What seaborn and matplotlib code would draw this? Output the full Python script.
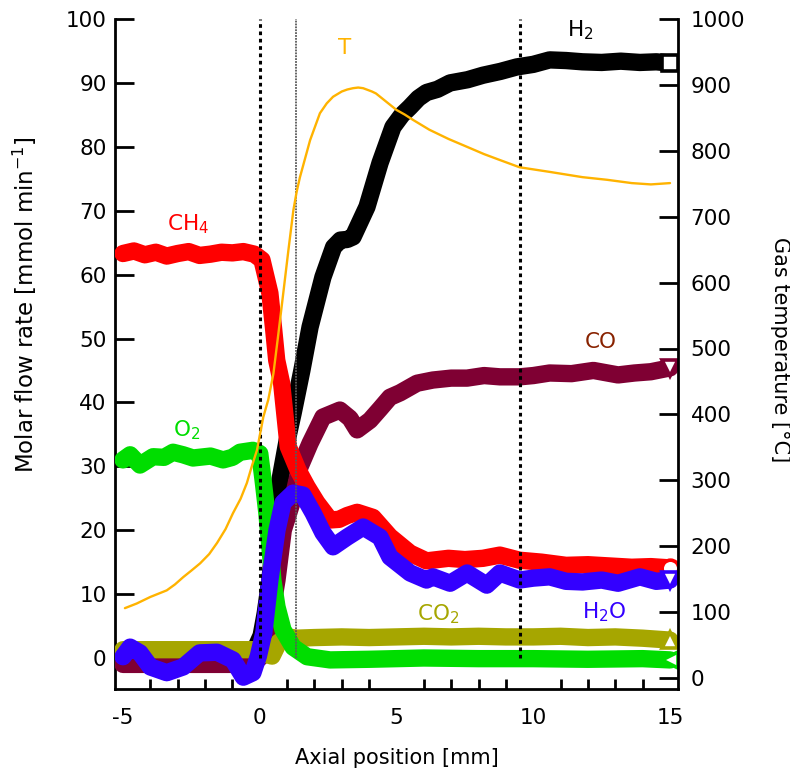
import matplotlib
matplotlib.use("Agg")
import numpy as np
import pandas as pd
import seaborn as sns
import matplotlib.pyplot as plt

# ---------------- data ----------------
ch4_x = [-5.0, -4.6, -4.2, -3.8, -3.4, -3.0, -2.6, -2.2, -1.8, -1.4, -1.0, -0.6, -0.2, 0.08, 0.37, 0.5, 0.62, 0.8,
         1.04, 1.4, 1.73, 2.09, 2.57, 2.9, 3.2, 3.56, 4.14, 4.76, 5.5, 6.1, 6.9, 7.5, 8.16, 8.78, 9.5, 10.3, 11.2,
         12.0, 12.8, 13.6, 14.3, 15.0]
ch4_y = [63.3, 63.7, 63.1, 63.5, 62.9, 63.3, 63.6, 63.0, 63.2, 63.5, 63.4, 63.6, 63.2, 62.3, 57.1, 51.8, 46.6, 43.0,
         33.1, 29.4, 26.8, 24.3, 21.6, 21.7, 22.3, 22.8, 22.0, 19.0, 16.4, 15.2, 15.6, 15.4, 15.6, 16.1, 15.3, 15.0,
         14.5, 14.6, 14.4, 14.2, 14.3, 14.1]

h2_x = [-5.0, -3.0, -1.0, -0.4, -0.15, 0.05, 0.2, 0.37, 0.55, 0.74, 1.0, 1.22, 1.54, 1.84, 2.31, 2.7, 2.95, 3.2,
        3.41, 3.92, 4.4, 4.87, 5.2, 5.49, 5.8, 6.1, 6.5, 6.96, 7.6, 8.16, 8.8, 9.4, 10.0, 10.6, 11.2, 11.8, 12.5,
        13.2, 13.9, 14.5, 15.0]
h2_y = [0.3, 0.3, 0.3, 0.6, 1.6, 3.5, 7.0, 12.2, 20.0, 27.9, 34.0, 38.3, 45.0, 51.8, 59.6, 64.3, 65.4, 65.5,
        65.9, 70.6, 77.5, 83.1, 85.0, 86.2, 87.6, 88.5, 89.0, 90.0, 90.5, 91.2, 91.8, 92.5, 92.9, 93.6, 93.5, 93.3,
        93.2, 93.4, 93.2, 93.3, 93.1]

t_x = [-4.93, -4.5, -4.0, -3.7, -3.4, -3.1, -2.8, -2.5, -2.18, -1.85, -1.56, -1.25, -0.98, -0.7, -0.47, -0.3,
       -0.1, 0.13, 0.31, 0.5, 0.68, 0.86, 1.05, 1.23, 1.35, 1.47, 1.84, 2.2, 2.45, 2.68, 3.0, 3.2, 3.41, 3.6, 3.78,
       4.1, 4.25, 4.4, 4.7, 5.0, 5.3, 5.6, 6.2, 6.9, 7.58, 8.2, 8.78, 9.5, 10.6, 11.8, 12.7, 13.6, 14.3, 15.0]
t_y = [106, 113, 123, 128, 133, 142, 153, 163, 174, 188, 205, 226, 250, 272, 296, 320,
       346, 396, 422, 462, 522, 584, 650, 710, 738, 760, 816, 857, 872, 882, 890, 893, 895, 896, 895,
       890, 887, 882, 872, 862, 855, 847, 832, 818, 806, 795, 786, 775, 768, 760, 756, 751, 749, 751]

o2_x = [-5.0, -4.74, -4.38, -3.9, -3.5, -3.17, -2.8, -2.44, -1.8, -1.34, -1.0, -0.72, -0.25, 0.0, 0.12, 0.26,
        0.37, 0.48, 0.63, 0.85, 1.22, 1.73, 2.57, 4.0, 6.0, 8.0, 10.0, 12.0, 14.0, 15.0]
o2_y = [31.0, 31.8, 30.2, 31.5, 31.4, 32.2, 31.8, 31.3, 31.6, 31.0, 31.4, 32.2, 32.5, 32.0, 27.9, 22.7, 17.4,
        12.2, 8.0, 4.4, 1.7, 0.2, -0.3, -0.2, 0.0, -0.1, -0.1, -0.2, -0.1, -0.3]

co2_x = [-5.0, -3.0, -1.0, -0.2, 0.2, 0.45, 0.7, 1.0, 1.36, 2.0, 3.0, 4.0, 5.0, 6.0, 7.0, 8.0, 9.0, 10.0, 11.0,
         12.0, 13.0, 14.0, 15.0]
co2_y = [1.3, 1.3, 1.3, 1.3, 0.6, 0.3, 2.5, 3.3, 3.1, 3.2, 3.3, 3.2, 3.3, 3.4, 3.3, 3.4, 3.3, 3.3, 3.4, 3.2, 3.3,
         3.1, 2.8]

co_x = [-5.0, -4.0, -3.0, -2.0, -1.0, -0.3, 0.0, 0.26, 0.45, 0.63, 0.86, 1.17, 1.47, 1.84, 2.31, 2.93, 3.3, 3.56,
        4.03, 4.4, 4.76, 5.13, 5.75, 6.33, 7.0, 7.58, 8.2, 8.78, 9.5, 10.0, 10.6, 11.4, 12.2, 13.1, 13.7, 14.3, 15.0]
co_y = [-1.0, -1.0, -1.0, -1.0, -1.0, -0.8, 0.0, 2.8, 7.5, 12.2, 20.0, 24.2, 29.9, 33.6, 37.7, 38.8, 37.5, 35.7,
        37.2, 39.0, 40.8, 41.5, 43.0, 43.5, 43.8, 43.8, 44.2, 44.0, 44.0, 44.2, 44.6, 44.5, 45.0, 44.3, 44.6, 44.8,
        45.4]

h2o_x = [-5.0, -4.74, -4.38, -4.0, -3.4, -2.8, -2.2, -1.56, -0.98, -0.6, -0.25, -0.05, 0.15, 0.37, 0.63, 0.85,
         1.22, 1.58, 1.95, 2.31, 2.68, 3.19, 3.78, 4.4, 4.76, 5.5, 6.1, 6.33, 6.96, 7.58, 8.3, 8.78, 9.5, 10.0,
         10.6, 11.2, 11.8, 12.5, 13.1, 13.9, 14.5, 15.0]
h2o_y = [0.2, 1.7, 0.8, -1.4, -2.3, -1.4, 0.8, 0.9, -0.3, -3.0, -2.3, 0.3, 4.0, 12.2, 20.0, 24.3, 25.8, 25.5,
         22.7, 19.6, 17.4, 18.9, 20.5, 18.9, 15.8, 13.3, 12.2, 12.7, 11.7, 13.3, 11.4, 13.3, 12.2, 12.5, 12.7, 12.0,
         11.9, 12.2, 11.7, 12.7, 12.0, 12.2]

vline_x = [0.0, 9.5]
thin_vline_x = [1.33]

x_ticks = [-5, 0, 5, 10, 15]
left_ticks = [0, 10, 20, 30, 40, 50, 60, 70, 80, 90, 100]
right_ticks = [0, 100, 200, 300, 400, 500, 600, 700, 800, 900, 1000]

# ---------------- style ----------------
sns.set_style("white")
plt.rcParams["font.family"] = ["DejaVu Sans"]
plt.rcParams["mathtext.default"] = "regular"
plt.rcParams["axes.unicode_minus"] = False
for k in ("text.color", "axes.labelcolor", "xtick.color", "ytick.color"):
    plt.rcParams[k] = "black"

fig = plt.figure(figsize=(7.9, 7.77), dpi=100)
ax = fig.add_axes([115 / 790, 88 / 777, 563 / 790, 670 / 777])
ax2 = ax.twinx()

LW = 12.5
series = [
    ("H2", h2_x, h2_y, "#000000", "s", 2),
    ("CO", co_x, co_y, "#7f0033", "v", 3),
    ("CH4", ch4_x, ch4_y, "#ff0000", "o", 4),
    ("CO2", co2_x, co2_y, "#a6a600", "^", 5),
    ("O2", o2_x, o2_y, "#00dd00", "<", 6),
    ("H2O", h2o_x, h2o_y, "#3300ff", "v", 7),
]
for name, xs, ys, c, m, z in series:
    df = pd.DataFrame({"x": xs, "y": ys})
    sns.lineplot(data=df, x="x", y="y", ax=ax, color=c, lw=LW, sort=False, estimator=None,
                 solid_capstyle="round", solid_joinstyle="round", zorder=z)
    ax.plot([xs[-1]], [ys[-1]], marker=m, ms=12, mfc="white", mec=c, mew=2.6, ls="none", zorder=z + 0.5)

for xv in vline_x:
    ax.vlines(xv, 0, 100, colors="black", linestyles=(0, (1.2, 1.2)), lw=2.2, zorder=10)
for xv in thin_vline_x:
    ax.vlines(xv, 0, 100, colors="0.35", linestyles=(0, (1, 0.6)), lw=1.3, zorder=10)

df_t = pd.DataFrame({"x": t_x, "T": t_y})
sns.lineplot(data=df_t, x="x", y="T", ax=ax2, color="#ffb300", lw=1.7, sort=False, estimator=None)

# ---------------- axes ----------------
ax.set_xlim(-5 - 8 / 27.35, 15 + 8 / 27.35)
ax.set_ylim(-31 / 6.39, 100)
ax2.set_ylim(-11 / 0.659, 1000)

ax.set_xticks(x_ticks)
ax.set_xticks(np.arange(-5, 16, 1), minor=True)
ax.set_yticks(left_ticks)
ax2.set_yticks(right_ticks)

for a in (ax, ax2):
    for s in a.spines.values():
        s.set_linewidth(2)
        s.set_color("black")
    a.spines["top"].set_visible(False)
ax.spines["right"].set_visible(False)
ax2.spines["left"].set_visible(False)
ax2.spines["bottom"].set_visible(False)

tick_fs = 15.5
ax.tick_params(axis="x", which="major", direction="in", length=14, width=2, pad=14, labelsize=tick_fs)
ax.tick_params(axis="x", which="minor", direction="in", length=7, width=2, bottom=True)
ax.tick_params(axis="y", which="major", direction="in", length=14, width=2, pad=6, labelsize=tick_fs, left=True)
ax2.tick_params(axis="y", which="major", direction="in", length=14, width=2, pad=9, labelsize=tick_fs, right=True)

ax.set_xlabel("Axial position [mm]", fontsize=15, labelpad=14)
ax.set_ylabel("Molar flow rate [mmol min$^{-1}$]", fontsize=16.5)
ax.yaxis.set_label_coords(-0.135, 0.573)
ax2.set_ylabel("Gas temperature [°C]", fontsize=15, rotation=270, va="bottom")
ax2.yaxis.set_label_coords(1.163, 0.507)

lab_fs = 15.5
labels = [
    ("T", 3.12, 95.5, "#ffb300"),
    ("H$_2$", 11.71, 98.3, "#000000"),
    ("CH$_4$", -2.62, 67.9, "#ff0000"),
    ("O$_2$", -2.66, 35.7, "#00dd00"),
    ("CO", 12.48, 49.5, "#882200"),
    ("CO$_2$", 6.52, 6.9, "#a6a600"),
    ("H$_2$O", 12.59, 7.2, "#3300ff"),
]
for txt, xv, yv, c in labels:
    ax.text(xv, yv, txt, color=c, fontsize=lab_fs, ha="center", va="center", zorder=20)

fig.savefig("out.png", dpi=100)
